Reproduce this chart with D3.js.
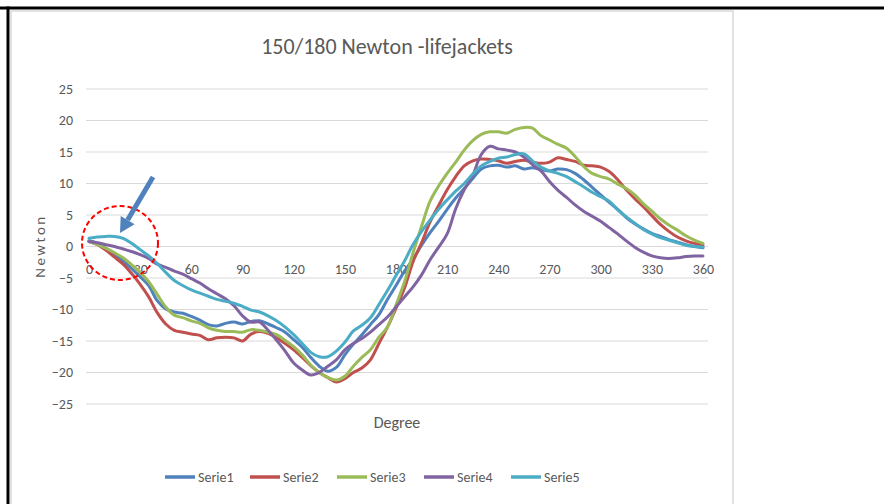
<!DOCTYPE html>
<html>
<head>
<meta charset="utf-8">
<script src="https://cdn.jsdelivr.net/npm/d3@7/dist/d3.min.js"></script>
<style>
  html, body { margin: 0; padding: 0; background: #fff; }
  svg { display: block; }
  text { font-family: Carlito, Lato, "Open Sans", sans-serif; fill: #595959; }
</style>
</head>
<body>
<svg id="chart" width="884" height="504"></svg>
<script>
// Angle (degrees) for every sample point
const degrees = d3.range(0, 361, 5);

const serie1 = [0.9,0.5,-0.3,-1.2,-2.3,-3.5,-4.8,-6.2,-8.6,-9.9,-10.4,-10.6,-11.1,-11.7,-12.4,-12.6,-12.2,-12.0,-12.3,-11.9,
  -11.8,-12.3,-12.9,-13.6,-14.8,-16.0,-17.6,-19.0,-19.8,-19.2,-17.2,-15.5,-14.0,-12.4,-10.8,-8.4,-6.2,-3.9,-2.0,0.2,
  2.2,4.0,5.9,7.7,9.2,10.8,12.3,12.8,12.9,12.6,12.8,12.3,12.5,12.2,12.0,12.3,12.2,11.6,10.6,9.4,
  8.2,7.0,5.9,4.6,3.6,2.8,2.1,1.6,1.1,0.7,0.3,0.0,-0.2];

const serie2 = [0.8,0.3,-0.6,-1.7,-2.8,-4.3,-6.0,-8.0,-10.5,-12.3,-13.3,-13.6,-13.9,-14.1,-14.8,-14.5,-14.4,-14.5,-15.0,-13.9,
  -13.5,-13.8,-14.5,-15.4,-16.4,-17.6,-18.9,-20.0,-20.8,-21.5,-21.0,-20.0,-19.3,-18.0,-15.4,-12.8,-9.8,-6.6,-2.4,0.6,
  3.9,6.5,9.0,11.1,12.8,13.6,13.9,13.8,13.6,13.2,13.5,13.7,13.4,13.2,13.4,14.1,13.8,13.5,12.9,12.8,
  12.6,11.9,10.6,9.0,7.6,6.3,4.9,3.5,2.4,1.5,0.9,0.5,0.2];

const serie3 = [0.8,0.3,-0.3,-1.0,-1.8,-2.9,-4.1,-5.6,-7.6,-9.6,-10.9,-11.3,-11.8,-12.2,-12.9,-13.3,-13.5,-13.5,-13.6,-13.2,
  -13.3,-13.6,-14.0,-14.9,-15.9,-17.2,-18.8,-20.0,-20.8,-21.2,-20.6,-19.0,-17.6,-16.4,-14.4,-12.8,-9.3,-5.6,-1.0,3.2,
  7.2,9.6,11.6,13.4,15.3,16.8,17.8,18.2,18.2,18.0,18.6,18.9,18.8,17.6,16.9,16.2,15.6,14.3,12.7,11.6,
  11.1,10.7,9.9,9.2,8.2,6.8,5.6,4.4,3.4,2.6,1.7,1.0,0.5];

const serie4 = [0.8,0.6,0.3,0.0,-0.4,-0.8,-1.3,-1.9,-2.8,-3.3,-3.9,-4.4,-5.1,-5.8,-6.7,-7.5,-8.3,-9.4,-11.0,-12.0,
  -12.0,-13.3,-14.9,-16.6,-18.5,-19.6,-20.4,-20.0,-19.0,-18.0,-16.4,-15.4,-14.6,-13.6,-12.4,-11.2,-9.6,-8.0,-6.4,-4.5,
  -2.1,-0.1,2.0,6.0,9.0,11.3,14.6,15.9,15.5,15.3,15.0,14.2,13.0,12.0,10.3,8.9,7.8,6.6,5.6,4.8,
  4.0,3.0,2.0,0.9,-0.1,-0.9,-1.5,-1.8,-1.9,-1.8,-1.6,-1.5,-1.5];

const serie5 = [1.3,1.5,1.6,1.6,1.3,0.5,-0.5,-1.5,-2.7,-4.1,-5.4,-6.2,-6.9,-7.4,-7.9,-8.4,-8.7,-9.0,-9.5,-10.1,
  -10.4,-11.0,-11.8,-12.8,-14.0,-15.4,-16.8,-17.5,-17.5,-16.6,-15.2,-13.4,-12.5,-11.3,-9.2,-7.0,-4.6,-2.3,0.3,2.4,
  4.2,5.9,7.4,8.8,10.0,11.5,12.8,13.5,14.0,14.2,14.6,14.7,13.6,12.6,12.0,11.6,11.1,10.3,9.5,8.6,
  7.9,7.2,5.8,4.7,3.7,2.7,2.0,1.4,1.0,0.6,0.2,0.0,-0.1];

const seriesNames = ["Serie1", "Serie2", "Serie3", "Serie4", "Serie5"];
const seriesColors = ["#4F81BD", "#C0504D", "#9BBB59", "#8064A2", "#4BACC6"];
const seriesValues = [serie1, serie2, serie3, serie4, serie5];

const xTicks = d3.range(0, 361, 30);
const yTicks = d3.range(-25, 26, 5);

const svg = d3.select("#chart");

// page frame and chart border
svg.append("line").attr("x1", 0).attr("x2", 884).attr("y1", 8).attr("y2", 8)
  .attr("stroke", "#000").attr("stroke-width", 3);
svg.append("line").attr("x1", 8).attr("x2", 8).attr("y1", 6.5).attr("y2", 504)
  .attr("stroke", "#000").attr("stroke-width", 3);
svg.append("path").attr("d", "M11,520 V11 H733 V520")
  .attr("fill", "none").attr("stroke", "#d9d9d9").attr("stroke-width", 1.5);

const x = d3.scaleLinear().domain([0, 360]).range([89, 703]);
const y = d3.scaleLinear().domain([-25, 25]).range([404, 89]);
const plotLeft = 86, plotRight = 708;

// title
svg.append("text").attr("x", 387).attr("y", 54).attr("text-anchor", "middle")
  .style("font-size", "22px").text("150/180 Newton -lifejackets");

// horizontal gridlines
svg.append("g").selectAll("line").data(yTicks).join("line")
  .attr("x1", plotLeft).attr("x2", plotRight)
  .attr("y1", d => y(d)).attr("y2", d => y(d))
  .attr("stroke", "#d9d9d9").attr("stroke-width", 1);

// y axis labels
const yAxis = d3.axisLeft(y).tickValues(yTicks).tickSize(0).tickPadding(0);
const gy = svg.append("g").attr("transform", "translate(73,0)").call(yAxis);
gy.select(".domain").remove();
gy.selectAll("text").style("font-size", "14px").style("font-family", null).attr("fill", "#595959");

// x axis labels, sitting just under the zero line
const xAxis = d3.axisBottom(x).tickValues(xTicks).tickSize(0).tickPadding(0);
const gx = svg.append("g").attr("transform", "translate(0,264)").call(xAxis);
gx.select(".domain").remove();
gx.selectAll("text").style("font-size", "14px").style("font-family", null).attr("fill", "#595959");

// axis titles
svg.append("text").attr("transform", "translate(45,246) rotate(-90)")
  .attr("text-anchor", "middle").style("font-size", "15px").style("letter-spacing", "2.5px")
  .text("Newton");
svg.append("text").attr("x", 397).attr("y", 428).attr("text-anchor", "middle")
  .style("font-size", "16px").text("Degree");

// series lines
const line = d3.line()
  .x((d, i) => x(degrees[i]))
  .y(d => y(d))
  .curve(d3.curveCatmullRom.alpha(0.5));

svg.append("g").selectAll("path").data(seriesValues).join("path")
  .attr("d", d => line(d))
  .attr("fill", "none")
  .attr("stroke", (d, i) => seriesColors[i])
  .attr("stroke-width", 3)
  .attr("stroke-linejoin", "round")
  .attr("stroke-linecap", "round");

// legend
const legendX = [165, 250, 337, 424, 511];
const lg = svg.append("g").selectAll("g").data(seriesNames).join("g")
  .attr("transform", (d, i) => `translate(${legendX[i]},477)`);
lg.append("line").attr("x1", 0).attr("x2", 30).attr("y1", 0).attr("y2", 0)
  .attr("stroke", (d, i) => seriesColors[i]).attr("stroke-width", 3.5);
lg.append("text").attr("x", 33).attr("y", 5).style("font-size", "14px").text(d => d);

// highlight of the start region: dashed circle and pointing arrow
svg.append("ellipse").attr("cx", 120).attr("cy", 243).attr("rx", 38).attr("ry", 37)
  .attr("fill", "none").attr("stroke", "#ff0000").attr("stroke-width", 2)
  .attr("stroke-dasharray", "5,3");

const ax0 = 153, ay0 = 177, ax1 = 120, ay1 = 233;
const ang = Math.atan2(ay1 - ay0, ax1 - ax0);
const headLen = 15, headHalf = 8;
const bx = ax1 - headLen * Math.cos(ang), by = ay1 - headLen * Math.sin(ang);
svg.append("line").attr("x1", ax0).attr("y1", ay0).attr("x2", bx).attr("y2", by)
  .attr("stroke", "#4F81BD").attr("stroke-width", 5);
svg.append("path")
  .attr("d", `M${ax1},${ay1} L${bx + headHalf * Math.sin(ang)},${by - headHalf * Math.cos(ang)} L${bx - headHalf * Math.sin(ang)},${by + headHalf * Math.cos(ang)} Z`)
  .attr("fill", "#4F81BD");
</script>
</body>
</html>
